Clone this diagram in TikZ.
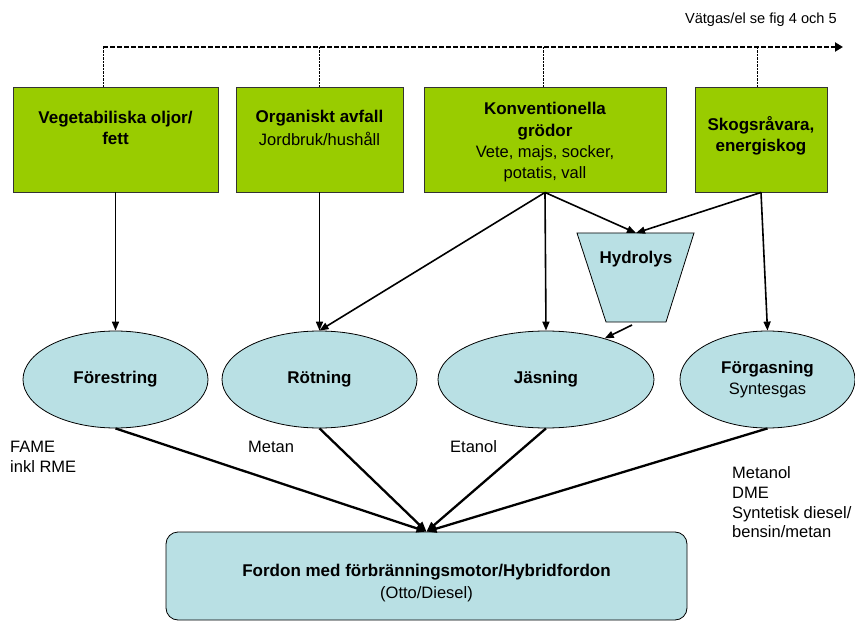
\documentclass[tikz,border=0pt]{standalone}
\usepackage{fontspec}
\setmainfont{Liberation Sans}
\usetikzlibrary{arrows.meta,shapes.geometric}
\definecolor{boxgreen}{RGB}{153,204,0}
\definecolor{procblue}{RGB}{185,224,228}
\begin{document}
\begin{tikzpicture}[x=1pt,y=-1pt,
  src/.style={draw=black!80,line width=0.9pt,fill=boxgreen,rectangle,inner sep=0pt},
  proc/.style={draw=black,line width=0.8pt,fill=procblue,ellipse,inner sep=0pt,align=center,
    font=\fontsize{17}{21}\selectfont},
  bf/.style={font=\fontsize{17}{21.5}\selectfont\bfseries,align=center,inner sep=0pt},
  rf/.style={font=\fontsize{16.5}{21}\selectfont,align=center,inner sep=0pt},
  lab/.style={font=\fontsize{16.5}{20}\selectfont,align=left,anchor=west,inner sep=0pt},
  arr/.style={-{Triangle[length=9pt,width=7pt]},line width=1.6pt},
  arrb/.style={-{Triangle[length=10pt,width=8pt]},line width=2.3pt},
  hdash/.style={line width=2.8pt,dash pattern=on 4.5pt off 2.5pt,-{Triangle[length=8pt,width=9pt]}},
  vdash/.style={line width=1pt,dash pattern=on 2.5pt off 1pt},
]
\useasboundingbox (0,0) rectangle (855,623);

% source boxes
\node[src,minimum width=205pt,minimum height=105pt] (b1) at (115.5,139.5) {};
\node[src,minimum width=167pt,minimum height=105pt] (b2) at (319.5,139.5) {};
\node[src,minimum width=242pt,minimum height=105pt] (b3) at (545,139.5) {};
\node[src,minimum width=132pt,minimum height=105pt] (b4) at (761,139.5) {};

\node[bf] (b1t) at (115.5,128) {Vegetabiliska oljor/\\fett};
\node[bf] (b2t) at (319.5,118) {Organiskt avfall};
\node[rf] (b2s) at (319.5,139) {Jordbruk/hushåll};
\node[bf] (b3t) at (545,121) {Konventionella\\grödor};
\node[rf] (b3s) at (545,164) {Vete, majs, socker,\\potatis, vall};
\node[bf] (b4t) at (761,136) {Skogsråvara,\\energiskog};

% top dashed line
\coordinate (d1) at (103,47);
\coordinate (d2) at (319,47);
\coordinate (d3) at (543,47);
\coordinate (d4) at (757,47);
\coordinate (dend) at (843,47);
\draw[hdash] (d1) -- (dend);
\draw[vdash] (d1) -- (d1 |- b1.north);
\draw[vdash] (d2) -- (d2 |- b2.north);
\draw[vdash] (d3) -- (d3 |- b3.north);
\draw[vdash] (d4) -- (d4 |- b4.north);
\node[font=\fontsize{14.6}{18}\selectfont,anchor=east,inner sep=0pt] (vg) at (837,20) {Vätgas/el se fig 4 och 5};

% processes
\node[proc,minimum width=185pt,minimum height=97pt] (p1) at (115.5,379.5) {\bfseries Förestring};
\node[proc,minimum width=195pt,minimum height=97pt] (p2) at (319.5,379.5) {\bfseries Rötning};
\node[proc,minimum width=216pt,minimum height=97pt] (p3) at (546,379.5) {\bfseries Jäsning};
\node[proc,minimum width=175pt,minimum height=97pt] (p4) at (767.5,379.5) {\textbf{Förgasning}\\\fontsize{16.5}{21}\selectfont Syntesgas};

% hydrolys
\draw[draw=black,line width=0.8pt,fill=procblue] (577,233) -- (694,233) -- (666,322) -- (606,322) -- cycle;
\node[bf] (hy) at (636,259) {Hydrolys};
\coordinate (hyT) at (636,233);
\coordinate (hyB) at (632,325);

% vehicle
\node[draw=black,line width=0.8pt,fill=procblue,rounded corners=12pt,minimum width=521pt,minimum height=88pt,inner sep=0pt] (veh) at (426.5,576) {};
\node[bf] (veht) at (426.5,572) {Fordon med förbränningsmotor/Hybridfordon};
\node[rf] (vehs) at (426.5,594) {(Otto/Diesel)};

% arrows boxes -> processes
\draw[arr] (b1.south) -- (p1.north);
\draw[arr] (b2.south) -- (p2.north);
\draw[arr] (b3.south) -- (p2.north);
\draw[arr] (b3.south) -- (p3.north);
\draw[arr] (b3.south) -- (hyT);
\draw[arr] (b4.south) -- (hyT);
\draw[arr] (b4.south) -- (p4.north);
\draw[arr] (hyB) -- (p3.35);

% arrows processes -> vehicle
\draw[arrb] (p1.south) -- (veh.north);
\draw[arrb] (p2.south) -- (veh.north);
\draw[arrb] (p3.south) -- (veh.north);
\draw[arrb] (p4.south) -- (veh.north);

% product labels
\node[lab] (l1) at (10,457) {FAME\\inkl RME};
\node[lab] (l2) at (248,447) {Metan};
\node[lab] (l3) at (450,447) {Etanol};
\node[lab,font=\fontsize{16.5}{19.7}\selectfont] (l4) at (732,502.5) {Metanol\\DME\\Syntetisk diesel/\\bensin/metan};
\end{tikzpicture}
\end{document}
